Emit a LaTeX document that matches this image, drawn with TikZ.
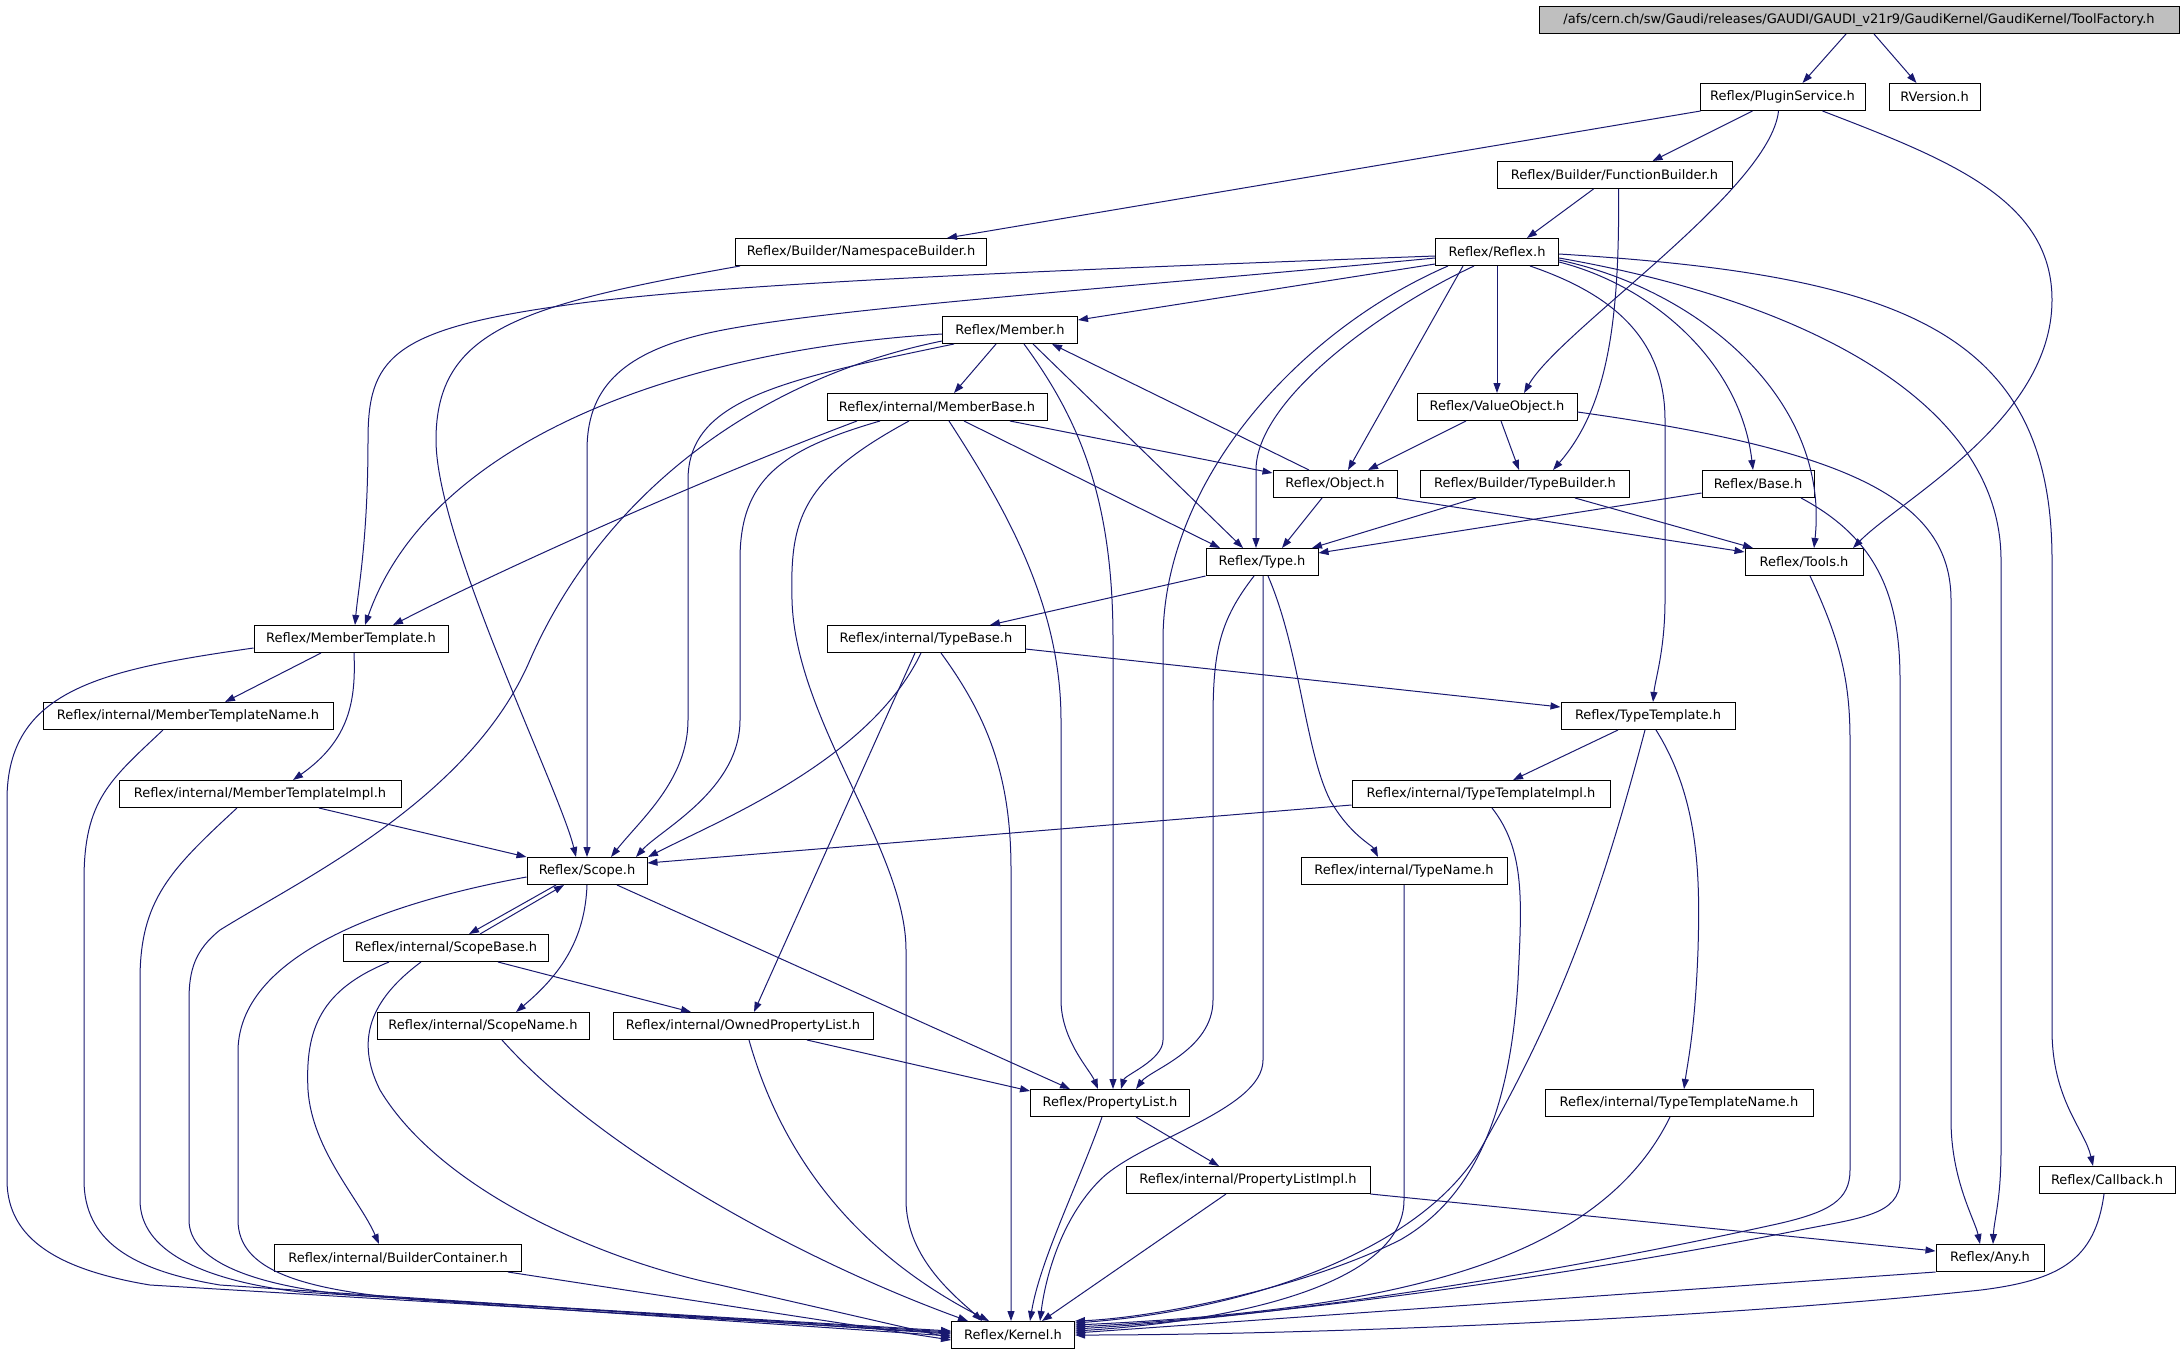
\documentclass[tikz,border=0pt]{standalone}
\usepackage{fontspec}
\setmainfont{DejaVu Sans}
\usetikzlibrary{arrows.meta}
\definecolor{edgeblue}{RGB}{25,25,112}
\definecolor{rootgray}{RGB}{191,191,191}

\begin{document}
\begin{tikzpicture}[x=1pt, y=-1pt,
    hdr/.style={draw=black, line width=1pt, fill=white, minimum height=27pt, inner sep=2pt, font=\fontsize{13}{15}\selectfont},
    dep/.style={draw=edgeblue, line width=1pt, -{Triangle[length=10pt,width=7pt]}}]
          \useasboundingbox (0,0) rectangle (2183,1355);
          \node[hdr, fill=rootgray, minimum width=640pt] (tool) at (1859,20) {/afs/cern.ch/sw/Gaudi/releases/GAUDI/GAUDI\_v21r9/GaudiKernel/GaudiKernel/ToolFactory.h};
          \node[hdr, minimum width=165pt] (plugin) at (1782.5,97) {Reflex/PluginService.h};
          \node[hdr, minimum width=91pt] (rversion) at (1934.5,97) {RVersion.h};
          \node[hdr, minimum width=235pt] (funcb) at (1614.5,175) {Reflex/Builder/FunctionBuilder.h};
          \node[hdr, minimum width=251pt] (nsbuild) at (861,252) {Reflex/Builder/NamespaceBuilder.h};
          \node[hdr, minimum width=123pt] (reflex) at (1497,252) {Reflex/Reflex.h};
          \node[hdr, minimum width=135pt] (member) at (1010,330) {Reflex/Member.h};
          \node[hdr, minimum width=220pt] (mbase) at (937,407) {Reflex/internal/MemberBase.h};
          \node[hdr, minimum width=160pt] (valobj) at (1497,407) {Reflex/ValueObject.h};
          \node[hdr, minimum width=124pt] (object) at (1335,484) {Reflex/Object.h};
          \node[hdr, minimum width=209pt] (tbuild) at (1525,484) {Reflex/Builder/TypeBuilder.h};
          \node[hdr, minimum width=112pt] (base) at (1758,484) {Reflex/Base.h};
          \node[hdr, minimum width=112pt] (type) at (1262,562) {Reflex/Type.h};
          \node[hdr, minimum width=118pt] (tools) at (1804,562) {Reflex/Tools.h};
          %
          \node[hdr, minimum width=194pt] (mtempl) at (351,639) {Reflex/MemberTemplate.h};
          \node[hdr, minimum width=198pt] (tbase) at (926,639) {Reflex/internal/TypeBase.h};
          \node[hdr, minimum width=290pt] (mtname) at (188,716) {Reflex/internal/MemberTemplateName.h};
          \node[hdr, minimum width=174pt] (ttempl) at (1648,716) {Reflex/TypeTemplate.h};
          \node[hdr, minimum width=282pt] (mtimpl) at (260,794) {Reflex/internal/MemberTemplateImpl.h};
          \node[hdr, minimum width=258pt] (ttimpl) at (1481,794) {Reflex/internal/TypeTemplateImpl.h};
          \node[hdr, minimum width=120pt] (scope) at (587,871) {Reflex/Scope.h};
          \node[hdr, minimum width=206pt] (tname) at (1404,871) {Reflex/internal/TypeName.h};
          \node[hdr, minimum width=205pt] (sbase) at (446,948) {Reflex/internal/ScopeBase.h};
          \node[hdr, minimum width=212pt] (sname) at (483,1026) {Reflex/internal/ScopeName.h};
          \node[hdr, minimum width=260pt] (opl) at (743,1026) {Reflex/internal/OwnedPropertyList.h};
          \node[hdr, minimum width=159pt] (plist) at (1110,1103) {Reflex/PropertyList.h};
          \node[hdr, minimum width=268pt] (ttname) at (1679,1103) {Reflex/internal/TypeTemplateName.h};
          \node[hdr, minimum width=244pt] (plimpl) at (1248,1180) {Reflex/internal/PropertyListImpl.h};
          \node[hdr, minimum width=136pt] (callback) at (2107,1180) {Reflex/Callback.h};
          \node[hdr, minimum width=247pt] (bcont) at (398,1258) {Reflex/internal/BuilderContainer.h};
          \node[hdr, minimum width=108pt] (any) at (1990,1258) {Reflex/Any.h};
          \node[hdr, minimum width=123pt] (kernel) at (1013,1335) {Reflex/Kernel.h};
          %
          \draw[dep] ([xshift=-13pt]tool.south) -- ([xshift=20pt]plugin.north);
          \draw[dep] ([xshift=15pt]tool.south) -- ([xshift=-18pt]rversion.north);
          \draw[dep] ([xshift=-82pt]plugin.south) -- ([xshift=86pt]nsbuild.north);
          \draw[dep] ([xshift=-30pt]plugin.south) -- ([xshift=38pt]funcb.north);
          \draw[dep] ([xshift=-4pt]plugin.south) .. controls (1770,190) and (1560,330) .. ([xshift=27pt]valobj.north);
          \draw[dep] ([xshift=40pt]plugin.south) .. controls (1950,160) and (2052,200) .. (2052,300) .. controls (2052,420) and (1900,500) .. ([xshift=49pt]tools.north);
          \draw[dep] ([xshift=-21pt]funcb.south) -- ([xshift=30pt]reflex.north);
          \draw[dep] ([xshift=4pt]funcb.south) .. controls (1620,330) and (1605,410) .. ([xshift=28pt]tbuild.north);
          \draw[dep] ([xshift=-121pt]nsbuild.south) .. controls (520,305) and (436,330) .. (436,440) .. controls (436,540) and (560,790) .. ([xshift=-11pt]scope.north);
          %
          \draw[dep] ([yshift=-4pt]reflex.west) .. controls (1000,272) and (700,285) .. (560,306) .. controls (390,330) and (368,360) .. (368,440) .. controls (368,540) and (358,590) .. ([xshift=4pt]mtempl.north);
          \draw[dep] ([yshift=-6pt]reflex.west) .. controls (1100,290) and (800,310) .. (700,335) .. controls (620,355) and (587,390) .. (587,450) -- (scope.north);
          \draw[dep] ([yshift=-12pt]reflex.west) -- ([yshift=10pt]member.east);
          \draw[dep] ([xshift=-49pt]reflex.south) .. controls (1300,330) and (1163,480) .. (1163,640) -- (1163,1040) .. controls (1163,1060) and (1125,1075) .. ([xshift=11pt]plist.north);
          \draw[dep] ([xshift=-23pt]reflex.south) .. controls (1380,310) and (1256,400) .. (1256,470) -- ([xshift=-6pt]type.north);
          \draw[dep] ([xshift=-34pt]reflex.south) -- ([xshift=13pt]object.north);
          \draw[dep] (reflex.south) -- (valobj.north);
          \draw[dep] ([xshift=33pt]reflex.south) .. controls (1600,290) and (1665,330) .. (1665,420) -- (1665,600) .. controls (1665,650) and (1655,680) .. ([xshift=5pt]ttempl.north);
          \draw[dep] ([yshift=-10pt]reflex.east) .. controls (1650,285) and (1740,360) .. ([xshift=-5pt]base.north);
          \draw[dep] ([yshift=-8pt]reflex.east) .. controls (1700,290) and (1830,400) .. ([xshift=10pt]tools.north);
          \draw[dep] ([yshift=-6pt]reflex.east) .. controls (1800,300) and (2001,400) .. (2001,560) -- (2001,1150) .. controls (2001,1200) and (1994,1220) .. ([xshift=3pt]any.north);
          \draw[dep] ([yshift=-2pt]reflex.east) .. controls (1900,275) and (2052,330) .. (2052,560) -- (2052,1030) .. controls (2052,1100) and (2085,1130) .. ([xshift=-14pt]callback.north);
          %
          \draw[dep] ([yshift=-4pt]member.west) .. controls (680,350) and (430,440) .. ([xshift=14pt]mtempl.north);
          \draw[dep] ([xshift=-56pt]member.south) .. controls (780,380) and (688,400) .. (688,480) -- (688,720) .. controls (688,780) and (640,820) .. ([xshift=24pt]scope.north);
          \draw[dep] ([yshift=-11pt]member.west) .. controls (750,380) and (600,500) .. (530,660) .. controls (470,800) and (300,880) .. (220,930) .. controls (195,950) and (189,970) .. (189,1000) -- (189,1220) .. controls (189,1260) and (250,1285) .. (350,1295) -- ([yshift=4pt]kernel.west);
          \draw[dep] ([xshift=-14pt]member.south) -- ([xshift=17pt]mbase.north);
          \draw[dep] ([xshift=14pt]member.south) .. controls (1080,420) and (1113,500) .. (1113,640) -- ([xshift=3pt]plist.north);
          \draw[dep] ([xshift=23pt]member.south) -- ([xshift=-19pt]type.north);
          \draw[dep] ([xshift=-26pt]object.north) -- ([xshift=42pt]member.south);
          %
          \draw[dep] ([xshift=-80pt]mbase.south) .. controls (700,480) and (500,570) .. ([xshift=42pt]mtempl.north);
          \draw[dep] ([xshift=-57pt]mbase.south) .. controls (780,450) and (740,480) .. (740,560) -- (740,720) .. controls (740,790) and (660,830) .. ([xshift=49pt]scope.north);
          \draw[dep] ([xshift=-28pt]mbase.south) .. controls (800,480) and (790,520) .. (792,600) .. controls (795,720) and (906,850) .. (906,950) -- (906,1200) .. controls (906,1260) and (960,1300) .. ([xshift=-31pt]kernel.north);
          \draw[dep] ([xshift=12pt]mbase.south) .. controls (1000,500) and (1061,600) .. (1061,720) -- (1061,1000) .. controls (1061,1040) and (1090,1070) .. ([xshift=-12pt]plist.north);
          \draw[dep] ([xshift=27pt]mbase.south) -- ([xshift=-42pt]type.north);
          \draw[dep] ([xshift=73pt]mbase.south) -- ([yshift=11pt]object.west);
          %
          \draw[dep] ([xshift=-31pt]valobj.south) -- ([xshift=33pt]object.north);
          \draw[dep] ([xshift=4pt]valobj.south) -- ([xshift=-6pt]tbuild.north);
          \draw[dep] ([yshift=-5pt]valobj.east) .. controls (1850,450) and (1951,500) .. (1951,600) -- (1951,1120) .. controls (1951,1180) and (1975,1220) .. ([xshift=-10pt]any.north);
          \draw[dep] ([xshift=-13pt]object.south) -- ([xshift=20pt]type.north);
          \draw[dep] ([xshift=61pt]object.south) -- ([yshift=10pt]tools.west);
          \draw[dep] ([xshift=-49pt]tbuild.south) -- ([xshift=50pt]type.north);
          \draw[dep] ([xshift=50pt]tbuild.south) -- ([xshift=-51pt]tools.north);
          \draw[dep] ([yshift=-9pt]base.west) -- ([yshift=9pt]type.east);
          \draw[dep] ([xshift=43pt]base.south) .. controls (1880,540) and (1900,600) .. (1900,680) -- (1900,1180) .. controls (1900,1215) and (1860,1218) .. (1800,1230) .. controls (1600,1270) and (1300,1315) .. ([yshift=8pt]kernel.east);
          \draw[dep] ([xshift=6pt]tools.south) .. controls (1840,640) and (1850,680) .. (1850,740) -- (1850,1170) .. controls (1850,1200) and (1830,1212) .. (1777,1224) .. controls (1500,1285) and (1250,1318) .. ([yshift=6pt]kernel.east);
          %
          \draw[dep] (type.south west) -- ([xshift=64pt]tbase.north);
          \draw[dep] ([xshift=-8pt]type.south) .. controls (1220,620) and (1213,650) .. (1213,720) -- (1213,1000) .. controls (1213,1050) and (1150,1070) .. ([xshift=26pt]plist.north);
          \draw[dep] ([xshift=1pt]type.south) -- (1263,1060) .. controls (1263,1110) and (1140,1140) .. (1100,1180) .. controls (1060,1220) and (1045,1280) .. ([xshift=27pt]kernel.north);
          \draw[dep] ([xshift=6pt]type.south) .. controls (1300,650) and (1305,750) .. (1330,800) .. controls (1350,835) and (1372,845) .. ([xshift=-26pt]tname.north);
          %
          \draw[dep] ([yshift=-9pt]mtempl.west) .. controls (100,670) and (7,690) .. (7,800) -- (7,1180) .. controls (7,1240) and (60,1270) .. (150,1285) -- ([yshift=2pt]kernel.west);
          \draw[dep] ([xshift=-30pt]mtempl.south) -- ([xshift=37pt]mtname.north);
          \draw[dep] ([xshift=3pt]mtempl.south) .. controls (356,700) and (350,740) .. ([xshift=33pt]mtimpl.north);
          \draw[dep] ([xshift=-25pt]mtname.south) .. controls (110,780) and (84,800) .. (84,880) -- (84,1180) .. controls (84,1240) and (130,1270) .. (220,1285) -- ([yshift=1pt]kernel.west);
          \draw[dep] ([xshift=-23pt]mtimpl.south) .. controls (170,870) and (140,900) .. (140,980) -- (140,1200) .. controls (140,1250) and (200,1280) .. (300,1292) -- ([yshift=3pt]kernel.west);
          \draw[dep] ([xshift=59pt]mtimpl.south) -- (scope.north west);
          %
          \draw[dep] ([xshift=-5pt]tbase.south) .. controls (870,760) and (720,820) .. ([xshift=61pt]scope.north);
          \draw[dep] ([xshift=-11pt]tbase.south) -- ([xshift=11pt]opl.north);
          \draw[dep] ([xshift=15pt]tbase.south) .. controls (990,720) and (1011,780) .. (1011,870) -- ([xshift=-2pt]kernel.north);
          \draw[dep] ([yshift=-10pt]tbase.east) -- ([yshift=9pt]ttempl.west);
          \draw[dep] ([xshift=-30pt]ttempl.south) -- ([xshift=32pt]ttimpl.north);
          \draw[dep] ([xshift=-3pt]ttempl.south) .. controls (1600,900) and (1560,1010) .. (1480,1150) .. controls (1420,1250) and (1250,1310) .. ([yshift=12pt]kernel.east);
          \draw[dep] ([xshift=8pt]ttempl.south) .. controls (1700,800) and (1700,880) .. (1698,950) .. controls (1695,1030) and (1688,1060) .. ([xshift=5pt]ttname.north);
          \draw[dep] ([yshift=-11pt]ttimpl.west) -- ([yshift=8pt]scope.east);
          \draw[dep] ([xshift=11pt]ttimpl.south) .. controls (1525,850) and (1522,900) .. (1518,980) .. controls (1510,1120) and (1470,1200) .. (1400,1240) .. controls (1300,1290) and (1150,1318) .. ([yshift=14pt]kernel.east);
          \draw[dep] ([xshift=-9pt]ttname.south) .. controls (1600,1260) and (1400,1310) .. ([yshift=10pt]kernel.east);
          \draw[dep] (tname.south) -- (1404,1200) .. controls (1404,1280) and (1250,1320) .. ([yshift=4pt]kernel.east);
          %
          \draw[dep] ([xshift=-31pt]scope.south) -- ([xshift=23pt]sbase.north);
          \draw[dep] ([xshift=34pt]sbase.north) -- ([xshift=-23pt]scope.south);
          \draw[dep] ([yshift=-6pt]scope.west) .. controls (400,900) and (240,950) .. (238,1050) -- (238,1220) .. controls (238,1270) and (300,1290) .. (420,1300) -- ([yshift=-1pt]kernel.west);
          \draw[dep] (scope.south) .. controls (585,940) and (560,975) .. ([xshift=33pt]sname.north);
          \draw[dep] ([xshift=30pt]scope.south) -- ([xshift=-40pt]plist.north);
          \draw[dep] ([xshift=-57pt]sbase.south) .. controls (320,990) and (305,1030) .. (308,1090) .. controls (312,1150) and (360,1200) .. ([xshift=-19pt]bcont.north);
          \draw[dep] ([xshift=-25pt]sbase.south) .. controls (370,1000) and (355,1040) .. (380,1090) .. controls (440,1190) and (600,1260) .. (720,1285) -- ([yshift=-3pt]kernel.west);
          \draw[dep] ([xshift=52pt]sbase.south) -- ([xshift=-52pt]opl.north);
          \draw[dep] ([xshift=19pt]sname.south) .. controls (600,1150) and (800,1260) .. ([xshift=-45pt]kernel.north);
          \draw[dep] ([xshift=6pt]opl.south) .. controls (780,1150) and (850,1250) .. ([xshift=-24pt]kernel.north);
          \draw[dep] ([xshift=64pt]opl.south) -- ([yshift=12pt]plist.west);
          \draw[dep] ([xshift=-8pt]plist.south) .. controls (1080,1180) and (1040,1260) .. ([xshift=17pt]kernel.north);
          \draw[dep] ([xshift=26pt]plist.south) -- ([xshift=-29pt]plimpl.north);
          \draw[dep] ([xshift=-22pt]plimpl.south) -- ([xshift=29pt]kernel.north);
          \draw[dep] (plimpl.south east) -- ([yshift=7pt]any.west);
          \draw[dep] ([xshift=-3pt]callback.south) .. controls (2095,1260) and (2060,1280) .. (1981,1290) .. controls (1700,1320) and (1300,1335) .. (kernel.east);
          \draw[dep] (any.south west) -- ([yshift=2pt]kernel.east);
          \draw[dep] ([xshift=110pt]bcont.south) -- ([yshift=-5pt]kernel.west);
        \end{tikzpicture}
\end{document}
